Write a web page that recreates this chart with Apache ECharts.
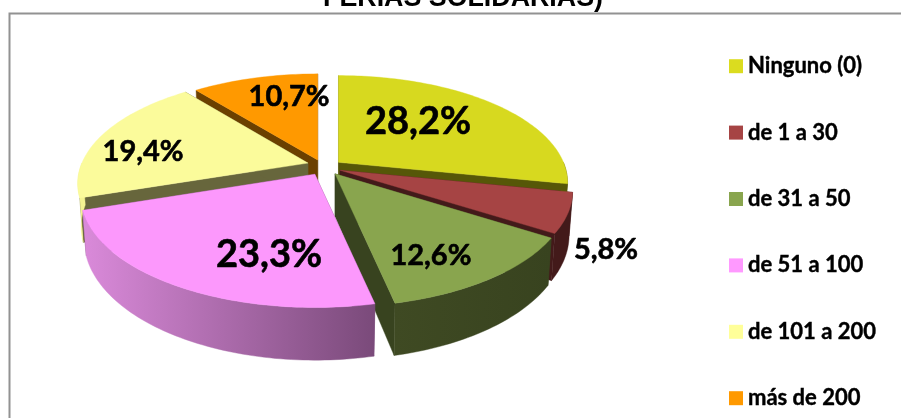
<!DOCTYPE html>
<html><head><meta charset="utf-8">
<style>html,body{margin:0;padding:0;background:#fff}#c{width:901px;height:418px}</style>
<script src="https://cdn.jsdelivr.net/npm/echarts@6/dist/echarts.min.js"></script>
</head><body><div id="c"></div>
<script>
const categories = ['Ninguno (0)','de 1 a 30','de 31 a 50','de 51 a 100','de 101 a 200','más de 200'];
const values = [28.2,5.8,12.6,23.3,19.4,10.7];
const labelTexts = ['28,2%','5,8%','12,6%','23,3%','19,4%','10,7%'];
const topColors = ['#D7D91F','#A64444','#89A54E','#FC98FC','#FBFB9B','#FF9900'];
const legendColors = ['#DBDC1F','#A64444','#89A54E','#FF99FF','#FFFF99','#FF9900'];
const wallColors = ['#565708','#431A1A','#38431F','#7A4A7A','#67663C','#6B4000'];
const outerStart = ['#565708','#431A1A','#3F4A23','#DA8ADA','#F4F492','#6B4000'];
const outerEnd = ['#565708','#431A1A','#38431F','#7A4A7A','#F4F492','#6B4000'];
const labelSizes = [38,29,29,38,29,29];
// label anchors in pie-plane units (x right, y toward viewer)
const labelAnchors = [[.445,-.472],[1.076,.684],[.401,.727],[-.214,.72],[-.826,-.152],[-.183,-.77]];
// small per-slice screen corrections of the pulled-out slices
const sliceShiftX = [0,-1,0,-2,-1,-2];
const sliceShiftY = [0,0,0,0,-2,0];
// painter order: back to front
const drawOrder = [5,0,4,1,2,3];

const P = {cx:325.3, cy:167.3, rs:227, ay:105, u:.19, h:42, explode:.075, baseShrink:.985};
const total = values.reduce((a,b)=>a+b,0);
const spans = []; { let acc=0; values.forEach(v=>{ spans.push([acc/total*2*Math.PI,(acc+v)/total*2*Math.PI]); acc+=v; }); }

function project(X,Y,base,ex){
  const f = 1/(1-P.u*Y);
  let x = P.rs*X*f, y = P.cy + P.ay*Y*f;
  if(base){ x*=P.baseShrink; y+=P.h*f; }
  return [P.cx+x+P.rs*(ex||0),y];
}
function slicePt(i,th,r,base){
  const m=(spans[i][0]+spans[i][1])/2;
  const X=r*Math.sin(th);
  const Y=-r*Math.cos(th)-P.explode*Math.cos(m);
  const p=project(X,Y,base,P.explode*Math.sin(m));
  return [p[0]+sliceShiftX[i],p[1]+sliceShiftY[i]];
}
function arc(i,a,b,base){
  const n=Math.max(2,Math.ceil((b-a)/0.02)), out=[];
  for(let k=0;k<=n;k++) out.push(slicePt(i,a+(b-a)*k/n,1,base));
  return out;
}
function poly(points,fill,z){
  return {type:'polygon',shape:{points},style:{fill,stroke:fill,lineWidth:.4},z2:z};
}
function renderItem(params){
  const i=drawOrder[params.dataIndex];
  const [a,b]=spans[i], kids=[];
  const apexT=slicePt(i,0,0,false), apexB=slicePt(i,0,0,true);
  [a,b].forEach(t=>{
    kids.push(poly([apexT,slicePt(i,t,1,false),slicePt(i,t,1,true),apexB],wallColors[i],1));
  });
  const s=Math.max(a,Math.PI/2), e=Math.min(b,Math.PI*1.5);
  if(e>s){
    const t=arc(i,s,e,false), bt=arc(i,s,e,true).reverse();
    const xs=t.concat(bt).map(p=>p[0]);
    const x0=Math.min(...xs), x1=Math.max(...xs);
    kids.push(poly(t.concat(bt),new echarts.graphic.LinearGradient(x0,0,x1,0,[
      {offset:0,color:outerStart[i]},{offset:1,color:outerEnd[i]}],true),2));
  }
  kids.push(poly([apexT].concat(arc(i,a,b,false)),topColors[i],3));
  return {type:'group',children:kids};
}
function labelItem(params){
  const i=params.dataIndex, p=project(labelAnchors[i][0],labelAnchors[i][1],false);
  return {type:'text',x:p[0],y:p[1],style:{text:labelTexts[i],fontFamily:'Lato',fontWeight:'bold',fontSize:labelSizes[i],fill:'#000',stroke:'#000',lineWidth:.6,align:'center',verticalAlign:'middle'}};
}
const chart=echarts.init(document.getElementById('c'),null,{renderer:'canvas'});
chart.setOption({
  animation:false, backgroundColor:'#fff',
  title:{text:'FERIAS SOLIDARIAS)',left:463,top:-15,textAlign:'center',padding:0,textStyle:{fontFamily:'Liberation Sans',fontWeight:'bold',fontSize:26.8,color:'#000'}},
  legend:{show:true,orient:'vertical',left:724,top:50,itemWidth:14,itemHeight:14,itemGap:44,icon:'rect',
    textStyle:{fontFamily:'Lato',fontWeight:700,fontSize:22,lineHeight:14,color:'#000',textBorderColor:'#000',textBorderWidth:.4},
    data:categories.map((c,i)=>({name:c,itemStyle:{color:legendColors[i]}}))},
  graphic:[{type:'rect',shape:{x:9.5,y:13.5,width:930,height:430},style:{fill:'none',stroke:'#929292',lineWidth:2},z:0}],
  series:[
    {type:'custom',coordinateSystem:'none',renderItem,data:values.map((v,i)=>values[drawOrder[i]]),silent:true,z:2},
    {type:'custom',coordinateSystem:'none',renderItem:labelItem,data:values,silent:true,z:3}
  ].concat(categories.map((c,i)=>({type:'pie',name:c,data:[],silent:true})))
});
</script></body></html>
